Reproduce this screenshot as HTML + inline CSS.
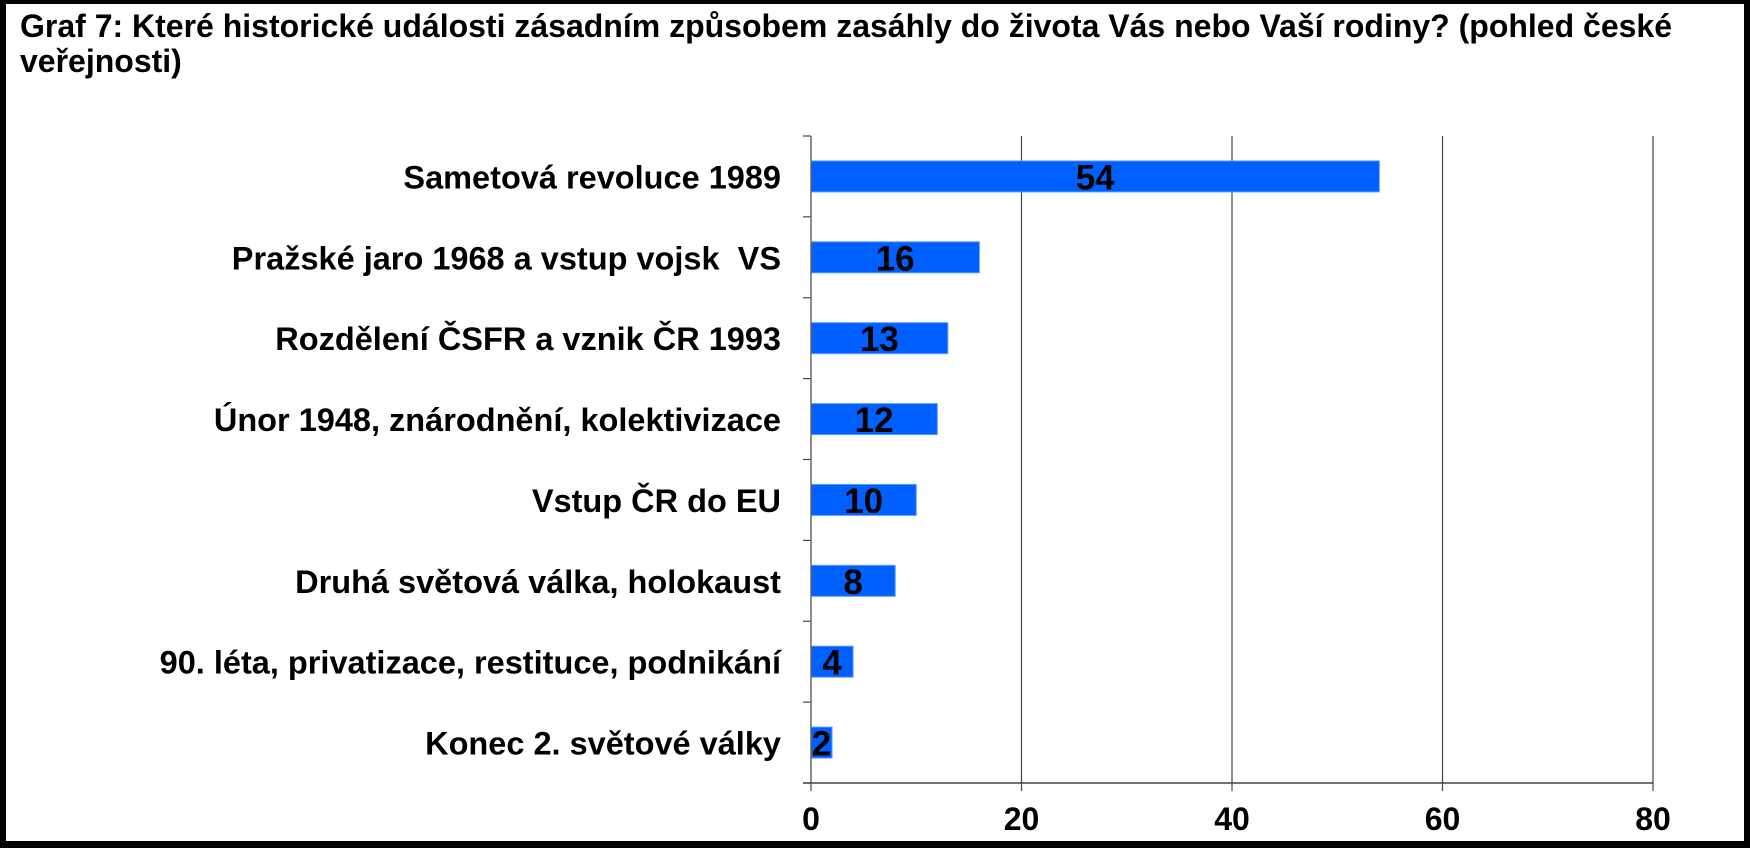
<!DOCTYPE html>
<html><head><meta charset="utf-8"><style>
html,body{margin:0;padding:0;background:#fff}
#frame{position:absolute;left:0;top:0;width:1750px;height:848px;box-sizing:border-box;border:6px solid #000;border-top-width:4px;border-bottom-width:7px;overflow:hidden;font-family:"Liberation Sans",Arial,sans-serif}
.t{position:absolute;left:14px;font-size:32px;line-height:36px;font-weight:bold;white-space:nowrap;color:#000}
svg{position:absolute;left:0;top:0}
svg text{white-space:pre}
</style></head><body>
<div id="frame">
<div class="t" style="top:4px">Graf 7: Které historické události zásadním způsobem zasáhly do života Vás nebo Vaší rodiny? (pohled české</div>
<div class="t" style="top:39px">veřejnosti)</div>
</div>
<svg id="chart" width="1750" height="848"></svg>
<script>
const categories=["Sametová revoluce 1989","Pražské jaro 1968 a vstup vojsk  VS","Rozdělení ČSFR a vznik ČR 1993","Únor 1948, znárodnění, kolektivizace","Vstup ČR do EU","Druhá světová válka, holokaust","90. léta, privatizace, restituce, podnikání","Konec 2. světové války"];
const values=[54,16,13,12,10,8,4,2];
const ticks=[0,20,40,60,80];
const NS="http://www.w3.org/2000/svg";
const svg=document.getElementById('chart');
const x0=811,x1=1653,yTop=136,yBot=783,xMax=80;
const xs=v=>x0+(v/xMax)*(x1-x0);
const band=(yBot-yTop)/categories.length;
function mk(t,a,p){const e=document.createElementNS(NS,t);for(const k in a)e.setAttribute(k,a[k]);(p||svg).appendChild(e);return e;}
ticks.forEach((t,i)=>{
  if(i>0){const g=mk('line',{x1:xs(t),x2:xs(t),y1:yTop,y2:yBot,stroke:'#444','stroke-width':1.2});
  
  }
  const tk=mk('line',{x1:xs(t),x2:xs(t),y1:yBot,y2:yBot+8,stroke:'#444','stroke-width':1.2});
  
  
  const lb=mk('text',{x:xs(t),y:830,'text-anchor':'middle','font-size':32,'font-weight':'bold','font-family':'Liberation Sans, Arial, sans-serif'});
  lb.textContent=t;
  
  
});
for(let i=0;i<=categories.length;i++){
  const y=yTop+i*band;
  const tk=mk('line',{x1:x0-8,x2:x0,y1:y,y2:y,stroke:'#444','stroke-width':1.2});
  
  
}
categories.forEach((c,i)=>{
  const cy=yTop+(i+0.5)*band, bh=31;
  const r=mk('rect',{x:x0,y:cy-bh/2,width:xs(values[i])-x0,height:bh,fill:'#0060ff',stroke:'#5a9cff','stroke-width':1});
  
  
  const l=mk('text',{x:781,y:cy+12,'text-anchor':'end','font-size':32.5,'font-weight':'bold','font-family':'Liberation Sans, Arial, sans-serif'});
  l.textContent=c;
  
  
  const v=mk('text',{x:(x0+xs(values[i]))/2,y:cy+13,'text-anchor':'middle','font-size':35,'font-weight':'bold','font-family':'Liberation Sans, Arial, sans-serif'});
  v.textContent=values[i];
  
  
});
const ya=mk('line',{x1:x0,x2:x0,y1:yTop,y2:yBot,stroke:'#666','stroke-width':1.5});


const xa=mk('line',{x1:x0-8,x2:x1,y1:yBot,y2:yBot,stroke:'#444','stroke-width':1.5});


</script>
</body></html>
